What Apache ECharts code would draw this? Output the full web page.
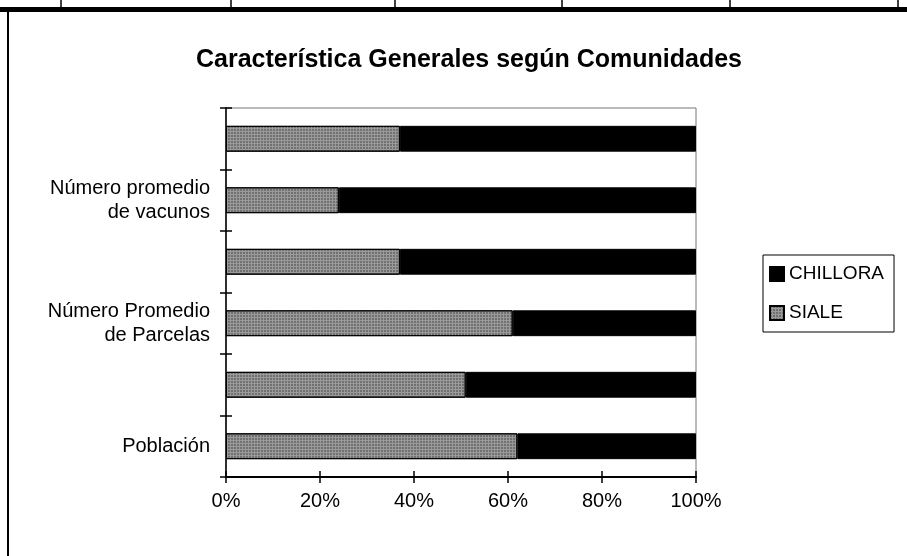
<!DOCTYPE html>
<html>
<head>
<meta charset="utf-8">
<script src="https://cdn.jsdelivr.net/npm/echarts@6/dist/echarts.min.js"></script>
<style>
  html, body { margin: 0; padding: 0; background: #fff; }
  #chart { width: 907px; height: 556px; }
</style>
</head>
<body>
<div id="chart"></div>
<script>
// Categories, bottom to top (only every other one carries a visible label)
const categories = [
  'Población',
  'Indicador 2',
  'Número Promedio\nde Parcelas',
  'Indicador 4',
  'Número promedio\nde vacunos',
  'Indicador 6'
];
// Share of each community (%), same order as categories
const siale    = [62, 51, 61, 37, 24, 37];
const chillora = [38, 49, 39, 63, 76, 63];
const xTicks = [0, 20, 40, 60, 80, 100];

const FONT = 'Liberation Sans, Arial, sans-serif';
const chart = echarts.init(document.getElementById('chart'), null, { renderer: 'canvas' });

const gridBox = { left: 226, right: 211, top: 108, bottom: 79 };

chart.setOption({
  animation: false,
  backgroundColor: '#ffffff',
  textStyle: { fontFamily: FONT, color: '#000' },
  title: {
    text: 'Característica Generales según Comunidades',
    left: 464, top: 43, textAlign: 'center',
    textStyle: { fontFamily: FONT, fontSize: 25, fontWeight: 'bold', color: '#000' }
  },
  legend: {
    orient: 'vertical',
    left: 763, top: 255,
    data: [{ name: 'CHILLORA', icon: 'rect' }, { name: 'SIALE', icon: 'rect' }],
    itemWidth: 14, itemHeight: 14, itemGap: 19,
    padding: [9, 10, 9, 6],
    borderColor: '#000', borderWidth: 1,
    textStyle: { fontFamily: FONT, fontSize: 19, color: '#000', lineHeight: 20 }
  },
  grid: Object.assign({ show: true, borderColor: '#777', borderWidth: 1, backgroundColor: '#fff' }, gridBox),
  xAxis: [{
    type: 'value', min: 0, max: 100, interval: 20,
    axisLine: { show: true, lineStyle: { color: '#000', width: 2 } },
    axisTick: { show: true, length: 6, lineStyle: { color: '#000', width: 1.5 } },
    splitLine: { show: false },
    axisLabel: {
      margin: 14, fontFamily: FONT, fontSize: 20, color: '#000',
      formatter: v => (xTicks.indexOf(v) >= 0 ? v + '%' : '')
    }
  }, {
    // inner half of the crossing ticks
    type: 'value', min: 0, max: 100, interval: 20, position: 'bottom',
    axisLine: { show: false },
    axisTick: { show: true, inside: true, length: 6, lineStyle: { color: '#000', width: 1.5 } },
    axisLabel: { show: false }, splitLine: { show: false }
  }],
  yAxis: [{
    type: 'category', data: categories,
    axisLine: { show: true, lineStyle: { color: '#000', width: 1.5 } },
    axisTick: { show: true, interval: 0, length: 6, lineStyle: { color: '#000', width: 1.5 } },
    axisLabel: {
      interval: 1, margin: 16, fontFamily: FONT, fontSize: 20, color: '#000',
      lineHeight: 24, align: 'right'
    }
  }, {
    type: 'category', data: categories, position: 'left',
    axisLine: { show: false },
    axisTick: { show: true, interval: 0, inside: true, length: 6, lineStyle: { color: '#000', width: 1.5 } },
    axisLabel: { show: false }
  }],
  series: [{
    name: 'SIALE', type: 'bar', stack: 'total', data: siale,
    barCategoryGap: '58%',
    itemStyle: {
      color: '#9a9a9a', borderColor: '#000', borderWidth: 1,
      decal: {
        symbol: 'rect', symbolSize: 0.8,
        dashArrayX: [2, 1], dashArrayY: [2, 1],
        color: 'rgba(20,20,20,0.5)'
      }
    }
  }, {
    name: 'CHILLORA', type: 'bar', stack: 'total', data: chillora,
    barCategoryGap: '58%',
    itemStyle: { color: '#000', borderColor: '#000', borderWidth: 1 }
  }],
  graphic: [
    // page frame around the chart
    { type: 'rect', shape: { x: 0, y: 7, width: 907, height: 5 }, style: { fill: '#000' } },
    { type: 'rect', shape: { x: 7, y: 12, width: 2, height: 544 }, style: { fill: '#000' } },
    { type: 'line', shape: { x1: 61, y1: 0, x2: 61, y2: 7 }, style: { stroke: '#000', lineWidth: 1.5 } },
    { type: 'line', shape: { x1: 231, y1: 0, x2: 231, y2: 7 }, style: { stroke: '#000', lineWidth: 1.5 } },
    { type: 'line', shape: { x1: 395, y1: 0, x2: 395, y2: 7 }, style: { stroke: '#000', lineWidth: 1.5 } },
    { type: 'line', shape: { x1: 562, y1: 0, x2: 562, y2: 7 }, style: { stroke: '#000', lineWidth: 1.5 } },
    { type: 'line', shape: { x1: 730, y1: 0, x2: 730, y2: 7 }, style: { stroke: '#000', lineWidth: 1.5 } },
    { type: 'line', shape: { x1: 898, y1: 0, x2: 898, y2: 7 }, style: { stroke: '#000', lineWidth: 1.5 } }
  ]
});
</script>
</body>
</html>
